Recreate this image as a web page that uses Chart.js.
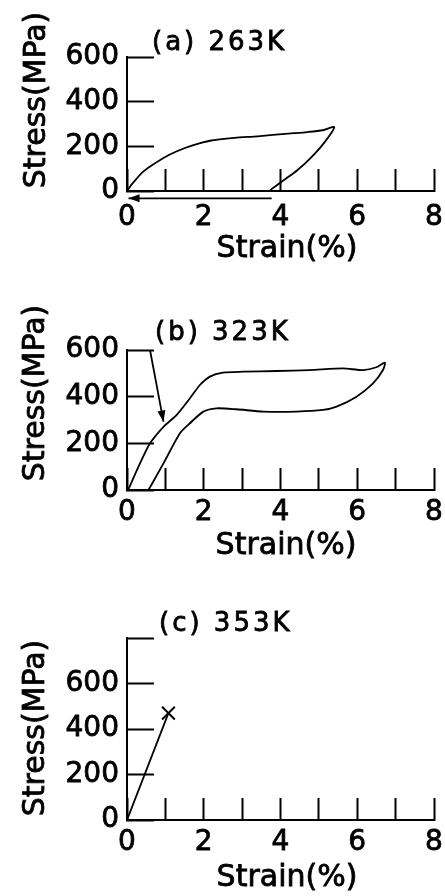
<!DOCTYPE html>
<html>
<head>
<meta charset="utf-8">
<script src="https://cdn.jsdelivr.net/npm/chart.js@4.4.0/dist/chart.umd.min.js"></script>
<style>
  html, body { margin: 0; padding: 0; background: #fff; }
  #wrap { position: relative; width: 445px; height: 896px; }
  canvas { position: absolute; left: 0; }
</style>
</head>
<body>
<div id="wrap">
  <canvas id="chartA" width="445" height="300" style="top:0"></canvas>
  <canvas id="chartB" width="445" height="290" style="top:300px"></canvas>
  <canvas id="chartC" width="445" height="306" style="top:590px"></canvas>
</div>
<script>
// Подписи осей и делений
const xTitle = 'Strain(%)';
const yTitle = 'Stress(MPa)';
const strainLabels = [0, 2, 4, 6, 8];
const stressLabels = [0, 200, 400, 600];

// (a) 263K: нагрузка и разгрузка
const strainA = [0, 0.15, 0.43, 0.95, 1.3, 1.73, 2.16, 2.8, 3.4, 4.2, 4.7, 5.1, 5.4, 5.12, 4.77, 4.43, 4.08, 3.73];
const stressA = [0, 35, 88, 148, 178, 205, 225, 238, 245, 257, 264, 272, 286, 212, 145, 92, 48, 4];
// стрелка возврата деформации при нагреве
const strainArrowA = [3.77, 0.04];
const stressArrowA = [-33, -33];

// (b) 323K: петля
const strainB = [0.03, 0.3, 0.6, 0.95, 1.29, 1.64, 1.9, 2.16, 2.5, 3.03, 3.9, 4.76, 5.63, 6.15, 6.5, 6.72,
  6.67, 6.41, 5.98, 5.46, 5.11, 4.42, 3.55, 2.85, 2.33, 1.99, 1.64, 1.38, 0.95, 0.56];
const stressB = [0, 100, 200, 271, 321, 393, 450, 486, 503, 507, 510, 514, 521, 514, 526, 546,
  514, 457, 400, 357, 343, 336, 336, 346, 350, 336, 286, 243, 114, 0];
// стрелка-указатель
const strainArrowB = [0.6, 0.95];
const stressArrowB = [600, 293];

// (c) 353K: разрушение
const strainC = [0, 1.08];
const stressC = [0, 470];

const toXY = (xs, ys) => xs.map((x, i) => ({x: x, y: ys[i]}));

// Надписи панели
const panelText = {
  id: 'panelText',
  afterDraw(chart, args, o) {
    const ctx = chart.ctx;
    ctx.save();
    ctx.fillStyle = '#000';
    ctx.strokeStyle = '#000';
    ctx.lineWidth = 0.8;
    ctx.textBaseline = 'middle';
    ctx.font = '26px "DejaVu Sans"';
    ctx.letterSpacing = '3px';
    ctx.textAlign = 'left';
    ctx.fillText(o.title, o.titleX, o.titleY);
    ctx.strokeText(o.title, o.titleX, o.titleY);
    ctx.letterSpacing = '0px';
    ctx.font = '30px "DejaVu Sans"';
    ctx.textAlign = 'center';
    ctx.fillText(xTitle, o.xTitleX, o.xTitleY);
    ctx.strokeText(xTitle, o.xTitleX, o.xTitleY);
    ctx.translate(o.yTitleX, o.yTitleY);
    ctx.rotate(-Math.PI / 2);
    ctx.fillText(yTitle, 0, 0);
    ctx.strokeText(yTitle, 0, 0);
    ctx.restore();
  }
};

// Наконечники стрелок
const arrowHeads = {
  id: 'arrowHeads',
  afterDatasetsDraw(chart) {
    const ctx = chart.ctx;
    chart.data.datasets.forEach((ds, i) => {
      if (!ds.arrow) return;
      const pts = chart.getDatasetMeta(i).data;
      const tip = pts[pts.length - 1];
      const prev = pts[pts.length - 2];
      const a = Math.atan2(tip.y - prev.y, tip.x - prev.x);
      const len = 11, half = 4;
      ctx.save();
      ctx.fillStyle = '#000';
      ctx.translate(tip.x, tip.y);
      ctx.rotate(a);
      ctx.beginPath();
      ctx.moveTo(0, 0);
      ctx.lineTo(-len, -half);
      ctx.lineTo(-len, half);
      ctx.closePath();
      ctx.fill();
      ctx.restore();
    });
  }
};

const tickFont = {family: 'DejaVu Sans', size: 28};

function lineSet(data, extra) {
  return Object.assign({
    data: data,
    showLine: true,
    borderColor: '#000',
    borderWidth: 1.8,
    pointRadius: 0,
    tension: 0.25,
    fill: false
  }, extra || {});
}

// Обнуляем автоматические отступы, чтобы область графика была там, где в оригинале
function noPadding(s) {
  s.paddingLeft = 0;
  s.paddingRight = 0;
  s.paddingTop = 0;
  s.paddingBottom = 0;
}

function makePanel(id, p) {
  return new Chart(document.getElementById(id), {
    type: 'scatter',
    data: {datasets: p.datasets},
    options: {
      responsive: false,
      animation: false,
      events: [],
      layout: {padding: {top: p.areaTop, right: 11, left: 0, bottom: 0}},
      plugins: {
        legend: {display: false},
        tooltip: {enabled: false},
        panelText: p.text
      },
      scales: {
        x: {
          type: 'linear', min: 0, max: 8,
          afterFit: s => { s.height = p.height - p.areaBottom; noPadding(s); },
          border: {color: '#000', width: 2},
          grid: {drawOnChartArea: false, tickLength: -22, tickColor: '#000', tickWidth: 2},
          ticks: {
            stepSize: 1, autoSkip: false, maxRotation: 0, color: '#000', font: tickFont, padding: p.xPad,
            textStrokeColor: '#000', textStrokeWidth: 0.8,
            callback: v => strainLabels.includes(v) ? String(v) : ''
          }
        },
        y: {
          type: 'linear', min: 0, max: p.yMax,
          afterFit: s => { s.width = 127; noPadding(s); },
          border: {color: '#000', width: 2},
          grid: {drawOnChartArea: false, tickLength: -27, tickColor: '#000', tickWidth: 2},
          ticks: {
            stepSize: 200, autoSkip: false, color: '#000', font: tickFont, padding: 35,
            textStrokeColor: '#000', textStrokeWidth: 0.8,
            callback: v => stressLabels.includes(v) ? String(v) : ''
          }
        }
      }
    },
    plugins: [panelText, arrowHeads]
  });
}

makePanel('chartA', {
  height: 300, areaTop: 57, areaBottom: 191, yMax: 600, xPad: 32,
  text: {title: '(a) 263K', titleX: 152, titleY: 43, xTitleX: 287, xTitleY: 249, yTitleX: 37, yTitleY: 100},
  datasets: [
    lineSet(toXY(strainA, stressA)),
    lineSet(toXY(strainArrowA, stressArrowA), {tension: 0, clip: false, arrow: true})
  ]
});

makePanel('chartB', {
  height: 290, areaTop: 50, areaBottom: 190, yMax: 600, xPad: 28,
  text: {title: '(b) 323K', titleX: 155, titleY: 33, xTitleX: 286, xTitleY: 246, yTitleX: 36, yTitleY: 93},
  datasets: [
    lineSet(toXY(strainB, stressB)),
    lineSet(toXY(strainArrowB, stressArrowB), {tension: 0, arrow: true})
  ]
});

makePanel('chartC', {
  height: 306, areaTop: 48, areaBottom: 230, yMax: 800, xPad: 28,
  text: {title: '(c) 353K', titleX: 159, titleY: 34, xTitleX: 287, xTitleY: 288, yTitleX: 36, yTitleY: 138},
  datasets: [
    lineSet(toXY(strainC, stressC), {
      tension: 0, pointStyle: 'crossRot', pointRadius: [0, 9], pointBorderWidth: 2, pointBorderColor: '#000'
    })
  ]
});
</script>
</body>
</html>
